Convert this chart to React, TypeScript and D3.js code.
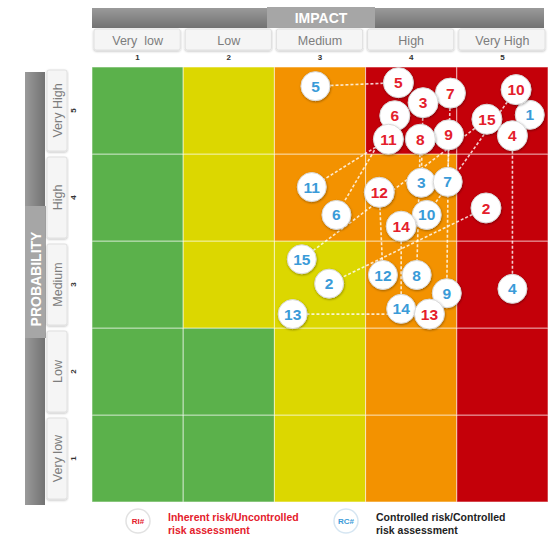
import React from "react";
import * as d3 from "d3";

const impactLabels = ["Very\u00a0 low", "Low", "Medium", "High", "Very High"];
const probabilityLabels = ["Very low", "Low", "Medium", "High", "Very High"];
const levels = [1, 2, 3, 4, 5];

// zone per cell: rows indexed by probability (1..5), columns by impact (1..5)
const zoneMatrix = [
  ["G", "G", "Y", "O", "R"], // prob 1
  ["G", "G", "Y", "O", "R"], // prob 2
  ["G", "Y", "Y", "O", "R"], // prob 3
  ["G", "Y", "O", "O", "R"], // prob 4
  ["G", "Y", "O", "R", "R"], // prob 5
];
const zoneColors: Record<string, string> = { G: "#5bb14b", Y: "#dcd700", O: "#f39200", R: "#c40009" };

// inherent (uncontrolled) risk positions: [id, impact, probability]
const inherentRisks: [number, number, number][] = [
  [12, 3.65, 4.06],
  [14, 3.89, 3.67],
  [2, 4.82, 3.88],
  [13, 4.2, 2.66],
  [5, 3.86, 5.32],
  [7, 4.43, 5.2],
  [3, 4.13, 5.09],
  [6, 3.82, 4.94],
  [10, 5.15, 5.24],
  [15, 4.83, 4.9],
  [4, 5.11, 4.71],
  [9, 4.41, 4.72],
  [8, 4.1, 4.67],
  [11, 3.75, 4.67],
];
// controlled risk positions
const controlledRisks: [number, number, number][] = [
  [5, 2.95, 5.28],
  [1, 5.3, 4.95],
  [11, 2.91, 4.12],
  [6, 3.18, 3.8],
  [3, 4.11, 4.17],
  [7, 4.4, 4.18],
  [10, 4.17, 3.8],
  [15, 2.8, 3.29],
  [2, 3.1, 3.01],
  [12, 3.69, 3.11],
  [8, 4.06, 3.11],
  [9, 4.39, 2.9],
  [4, 5.11, 2.95],
  [14, 3.89, 2.72],
  [13, 2.7, 2.66],
];

const W = 549;
const H = 538;
const gx0 = 92, gx1 = 548, gy0 = 67, gy1 = 502;

export default function App() {
  const x = d3.scaleLinear().domain([0.5, 5.5]).range([gx0, gx1]);
  const y = d3.scaleLinear().domain([0.5, 5.5]).range([gy1, gy0]);
  const cw = x(1.5) - x(0.5);
  const ch = y(0.5) - y(1.5);
  const font = "'Liberation Sans', Arial, sans-serif";
  const red = "#e4202c";
  const blue = "#3a9bd8";

  const links = inherentRisks
    .map(([id, ix, iy]) => {
      const c = controlledRisks.find((d) => d[0] === id);
      return c ? { id, x1: x(ix), y1: y(iy), x2: x(c[1]), y2: y(c[2]) } : null;
    })
    .filter(Boolean) as { id: number; x1: number; y1: number; x2: number; y2: number }[];

  const bubble = (id: number, cx: number, cy: number, color: string, key: string, r = 14.5) => (
    <g key={key} transform={`translate(${cx},${cy})`}>
      <circle r={r} fill="#ffffff" stroke="#d8d8d8" strokeWidth={1} filter="url(#shadow)" />
      <text
        textAnchor="middle"
        dy="0.36em"
        fill={color}
        fontFamily={font}
        fontWeight="bold"
        fontSize={15.5}
      >
        {id}
      </text>
    </g>
  );

  return (
    <svg width={W} height={H} style={{ position: "absolute", left: 0, top: 0, background: "#fff" }}>
      <defs>
        <filter id="shadow" x="-50%" y="-50%" width="200%" height="200%">
          <feDropShadow dx="0.5" dy="1" stdDeviation="1.2" floodColor="#000" floodOpacity="0.35" />
        </filter>
        <filter id="boxshadow" x="-10%" y="-30%" width="120%" height="160%">
          <feDropShadow dx="0" dy="1" stdDeviation="0.8" floodColor="#000" floodOpacity="0.25" />
        </filter>
        <linearGradient id="barGrad" x1="0" y1="0" x2="0" y2="1">
          <stop offset="0" stopColor="#9a9a9a" />
          <stop offset="1" stopColor="#727272" />
        </linearGradient>
        <linearGradient id="barGradV" x1="0" y1="0" x2="1" y2="0">
          <stop offset="0" stopColor="#9a9a9a" />
          <stop offset="1" stopColor="#727272" />
        </linearGradient>
      </defs>

      {/* IMPACT header */}
      <rect x={92} y={8} width={452} height={20} fill="url(#barGrad)" />
      <rect x={267} y={7} width={108} height={21} fill="#a6a6a6" />
      <text x={321} y={22.5} textAnchor="middle" fill="#ffffff" fontFamily={font} fontWeight="bold" fontSize={14}>
        IMPACT
      </text>
      {levels.map((lv, i) => (
        <g key={`ih${lv}`}>
          <rect
            x={x(lv - 0.5) + 2}
            y={29}
            width={cw - 5}
            height={21}
            rx={2}
            fill="#f5f5f5"
            stroke="#e0e0e0"
            filter="url(#boxshadow)"
          />
          <text x={x(lv)} y={44.5} textAnchor="middle" fill="#7d7d7d" fontFamily={font} fontSize={12.5}>
            {impactLabels[i]}
          </text>
          <text x={x(lv)} y={60} textAnchor="middle" fill="#333" fontFamily={font} fontWeight="bold" fontSize={8}>
            {lv}
          </text>
        </g>
      ))}

      {/* PROBABILITY header */}
      <rect x={25} y={72} width={20} height={433} fill="url(#barGradV)" />
      <rect x={25} y={206} width={21} height={132} fill="#a6a6a6" />
      <text
        transform={`translate(40.5,${279}) rotate(-90)`}
        textAnchor="middle"
        fill="#ffffff"
        fontFamily={font}
        fontWeight="bold"
        fontSize={14}
      >
        PROBABILITY
      </text>
      {levels.map((lv, i) => (
        <g key={`ph${lv}`}>
          <rect
            x={47}
            y={y(lv + 0.5) + 3}
            width={20}
            height={ch - 6}
            rx={2}
            fill="#f5f5f5"
            stroke="#e0e0e0"
            filter="url(#boxshadow)"
          />
          <text
            transform={`translate(61.5,${y(lv)}) rotate(-90)`}
            textAnchor="middle"
            fill="#7d7d7d"
            fontFamily={font}
            fontSize={12.5}
          >
            {probabilityLabels[i]}
          </text>
          <text
            transform={`translate(76,${y(lv)}) rotate(-90)`}
            textAnchor="middle"
            fill="#333"
            fontFamily={font}
            fontWeight="bold"
            fontSize={8}
          >
            {lv}
          </text>
        </g>
      ))}

      {/* grid cells */}
      {levels.map((p) =>
        levels.map((im) => (
          <rect
            key={`c${p}-${im}`}
            x={x(im - 0.5)}
            y={y(p + 0.5)}
            width={cw}
            height={ch}
            fill={zoneColors[zoneMatrix[p - 1][im - 1]]}
            stroke="#ffffff"
            strokeOpacity={0.55}
            strokeWidth={1}
          />
        ))
      )}

      {/* links */}
      {links.map((l) => (
        <line
          key={`l${l.id}`}
          x1={l.x1}
          y1={l.y1}
          x2={l.x2}
          y2={l.y2}
          stroke="#ffffff"
          strokeOpacity={0.8}
          strokeWidth={1.6}
          strokeDasharray="3,2"
        />
      ))}

      {/* controlled */}
      {controlledRisks.map(([id, ix, iy]) => bubble(id, x(ix), y(iy), blue, `b${id}`))}
      {/* inherent */}
      {inherentRisks.map(([id, ix, iy]) => bubble(id, x(ix), y(iy), red, `r${id}`, 15))}

      {/* legend */}
      <g transform="translate(138,521)">
        <circle r={12} fill="#fff" stroke="#e2e2e2" strokeWidth={1.5} />
        <text textAnchor="middle" dy="0.35em" fill={red} fontFamily={font} fontWeight="bold" fontSize={8}>
          RI#
        </text>
      </g>
      <text x={168} y={521} fill={red} fontFamily={font} fontWeight="bold" fontSize={10.5}>
        Inherent risk/Uncontrolled
      </text>
      <text x={168} y={534} fill={red} fontFamily={font} fontWeight="bold" fontSize={10.5}>
        risk assessment
      </text>
      <g transform="translate(346,521)">
        <circle r={12} fill="#fff" stroke="#d6e6f2" strokeWidth={1.5} />
        <text textAnchor="middle" dy="0.35em" fill={blue} fontFamily={font} fontWeight="bold" fontSize={8}>
          RC#
        </text>
      </g>
      <text x={376} y={521} fill="#222" fontFamily={font} fontWeight="bold" fontSize={10.5}>
        Controlled risk/Controlled
      </text>
      <text x={376} y={534} fill="#222" fontFamily={font} fontWeight="bold" fontSize={10.5}>
        risk assessment
      </text>
    </svg>
  );
}
